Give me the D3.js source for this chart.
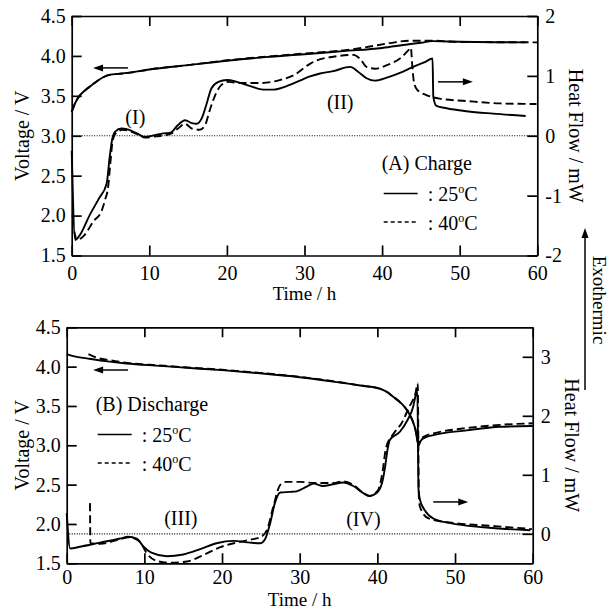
<!DOCTYPE html>
<html>
<head>
<meta charset="utf-8">
<script src="https://cdn.jsdelivr.net/npm/d3@7"></script>
<style>
body { margin: 0; background: #fff; }
text { font-family: "Liberation Serif", "Times New Roman", serif; fill: #000; }
</style>
</head>
<body>
<div id="graph"></div>
<script>
// Tick values
const timeTicks = [0, 10, 20, 30, 40, 50, 60];
const voltTicks = [1.5, 2.0, 2.5, 3.0, 3.5, 4.0, 4.5];
const heatTicksA = [-2, -1, 0, 1, 2];
const heatTicksB = [0, 1, 2, 3];
const temps = ["25", "40"];

// (A) Charge : [time h, voltage V]
const chgV25 = [[0,3.30],[0.5,3.42],[1,3.50],[1.5,3.55],[2.8,3.65],[4,3.73],[5,3.765],[6,3.775],[7.5,3.79],
  [10,3.83],[15,3.885],[20,3.94],[25,3.985],[30,4.02],[35,4.06],[40,4.10],[43,4.14],[45,4.165],[46.5,4.185],
  [48.5,4.18],[58.5,4.17]];
const chgV40 = [[0,3.30],[0.5,3.42],[1,3.50],[1.5,3.55],[2.8,3.65],[4,3.73],[5,3.765],[6,3.775],[7.5,3.79],
  [10,3.83],[15,3.885],[20,3.945],[25,3.99],[30,4.03],[35,4.07],[38,4.11],[41,4.16],[43.5,4.19],[46.5,4.19],
  [50,4.175],[60,4.17]];
// (A) Charge : [time h, heat flow mW]
const chgH25 = [[0,-0.25],[0.45,-1.74],[1.1,-1.65],[2.3,-1.33],[3.5,-1.05],[4.5,-0.8],[4.9,-0.35],[5.2,-0.07],
  [5.6,0.07],[6.4,0.12],[7.1,0.11],[8.4,0.04],[9.4,-0.02],[10.7,0.01],[11.8,0.04],[12.7,0.05],[13.7,0.18],
  [14.6,0.26],[15.5,0.21],[16.1,0.2],[16.75,0.29],[17.4,0.54],[18,0.79],[18.9,0.9],[20,0.93],[21.3,0.9],
  [23,0.83],[24.7,0.77],[26,0.77],[27.7,0.83],[29.4,0.92],[30.7,0.99],[32,1.04],[33.7,1.08],[35.9,1.15],
  [36.9,1.07],[38,0.96],[39.1,0.92],[40.6,0.97],[42.3,1.05],[44,1.15],[45.5,1.23],[46.5,1.29],[46.6,0.65],
  [47,0.5],[48.3,0.46],[50.9,0.41],[54.3,0.37],[58.5,0.33]];
const chgH40 = [[0.35,-1.6],[0.65,-1.74],[1.5,-1.68],[2.8,-1.43],[3.9,-1.24],[4.3,-1.07],[4.7,-0.85],
  [4.95,-0.5],[5.3,-0.07],[5.8,0.06],[6.6,0.1],[8.4,0.03],[9.45,-0.03],[10.9,-0.01],[12.7,0.03],[13.7,0.12],
  [14.6,0.2],[15.5,0.12],[16.5,0.1],[17.2,0.18],[17.8,0.43],[18.5,0.68],[19.3,0.85],[20.2,0.9],[21.7,0.88],
  [24.3,0.88],[26.8,0.93],[28.6,1.01],[30.7,1.2],[31.6,1.26],[33.7,1.32],[36.3,1.35],[37.2,1.28],[38,1.15],
  [39.1,1.12],[40.6,1.18],[42.3,1.29],[43.4,1.43],[43.7,1.47],[43.9,1.15],[44.1,0.9],[44.5,0.77],[45.7,0.68],
  [47.4,0.62],[50.9,0.58],[55.2,0.54],[59.9,0.53]];

// (B) Discharge : [time h, voltage V]
const disV25 = [[0,4.16],[1,4.13],[2.6,4.105],[5,4.07],[7.7,4.04],[12,4.01],[16.3,3.98],[20,3.955],[24.9,3.915],
  [30,3.865],[34.3,3.81],[37.8,3.76],[40.3,3.72],[41.2,3.68],[42,3.62],[43,3.54],[43.8,3.45],[44.5,3.32],
  [44.9,3.2],[45.3,3.0],[45.6,3.06],[46.2,3.1],[47.2,3.13],[51.5,3.19],[55.8,3.235],[60,3.245]];
const disV40 = [[2.8,4.16],[4,4.11],[5.6,4.08],[8,4.045],[12,4.015],[16.3,3.985],[20,3.96],[24.9,3.92],
  [30,3.87],[34.3,3.815],[37.8,3.76],[40.3,3.72],[41.2,3.68],[42,3.62],[43,3.54],[43.8,3.45],[44.5,3.32],
  [44.9,3.2],[45.3,3.02],[45.6,3.08],[46.2,3.12],[47.2,3.15],[51.5,3.22],[55.8,3.26],[60,3.28]];
// (B) Discharge : [time h, heat flow mW]
const disH25 = [[0,0.35],[0.45,-0.25],[1.7,-0.22],[4.3,-0.15],[6.9,-0.08],[7.9,-0.05],[9,-0.08],[9.9,-0.22],
  [10.9,-0.32],[12.9,-0.38],[15,-0.35],[17.2,-0.26],[19.3,-0.16],[21.5,-0.12],[23.6,-0.15],[24.9,-0.16],
  [25.5,-0.1],[26.2,0.18],[26.8,0.52],[27.5,0.7],[28.8,0.71],[29.6,0.72],[30.9,0.8],[31.8,0.85],[33,0.81],
  [34.3,0.84],[35.6,0.87],[36.9,0.81],[38.2,0.69],[39,0.64],[39.9,0.69],[40.6,0.86],[41,1.14],[41.3,1.42],
  [41.6,1.59],[42.9,1.73],[43.85,1.92],[44.6,2.15],[45,2.38],[45.15,2.42],[45.3,0.75],[45.5,0.57],[46.1,0.4],
  [47.2,0.26],[49.4,0.18],[53.7,0.11],[59.7,0.06]];
const disH40 = [[3.0,0.52],[3.05,-0.16],[4.3,-0.17],[6.9,-0.09],[8,-0.06],[9.4,-0.13],[10.3,-0.33],[11.6,-0.46],
  [13.3,-0.49],[15.5,-0.47],[17.6,-0.36],[19.7,-0.23],[21.5,-0.16],[23.6,-0.1],[24.9,-0.06],[25.8,0.07],
  [26.6,0.46],[27.5,0.83],[28.3,0.88],[30,0.88],[32,0.86],[34.3,0.86],[35.6,0.89],[36.9,0.83],[38.2,0.69],
  [39,0.64],[40.1,0.74],[40.7,1.08],[41.1,1.45],[42.1,1.7],[43.1,1.87],[44.1,2.15],[44.9,2.38],[45.2,2.55],
  [45.35,0.6],[45.5,0.45],[46.6,0.26],[50.1,0.18],[55.1,0.13],[59.9,0.08]];

////////////////////////////////////////////////////////////////////////////////
const FONT = 20;
const SERIF = "Liberation Serif, Times New Roman, serif";

var svg = d3.select("#graph")
  .append("svg")
  .attr("width", 611)
  .attr("height", 610);

function arrow(g, x1, y1, x2, y2) {
  var ang = Math.atan2(y2 - y1, x2 - x1), L = 10, w = 3.5;
  g.append("line")
    .attr("x1", x1).attr("y1", y1)
    .attr("x2", x2 - Math.cos(ang) * 6).attr("y2", y2 - Math.sin(ang) * 6)
    .attr("stroke", "#000").attr("stroke-width", 1.5);
  var bx = x2 - Math.cos(ang) * L, by = y2 - Math.sin(ang) * L;
  g.append("path")
    .attr("d", "M" + x2 + "," + y2 +
      "L" + (bx - Math.sin(ang) * w) + "," + (by + Math.cos(ang) * w) +
      "L" + (bx + Math.sin(ang) * w) + "," + (by - Math.cos(ang) * w) + "Z")
    .attr("fill", "#000");
}

function tempLabel(g, x, y, t) {
  var txt = g.append("text").attr("x", x).attr("y", y)
    .attr("font-size", FONT).attr("font-family", SERIF);
  txt.append("tspan").text(": " + t);
  txt.append("tspan").attr("dy", -8).attr("font-size", 12).text("o");
  txt.append("tspan").attr("dy", 8).text("C");
}

function drawPanel(p) {
  var x = d3.scaleLinear().domain([0, 60]).range([p.left, p.right]);
  var yV = d3.scaleLinear().domain([1.5, 4.5]).range([p.bottom, p.top]);
  var yH = d3.scaleLinear().domain(p.heatDomain).range([p.bottom, p.top]);
  var g = svg.append("g");

  // zero heat-flow line
  g.append("line")
    .attr("x1", x(0)).attr("x2", x(60))
    .attr("y1", yH(0)).attr("y2", yH(0))
    .attr("stroke", "#000").attr("stroke-width", 1.2)
    .attr("stroke-dasharray", "1,1.5");

  var lineV = d3.line().x(d => x(d[0])).y(d => yV(d[1])).curve(d3.curveMonotoneX);
  var lineH = d3.line().x(d => x(d[0])).y(d => yH(d[1])).curve(d3.curveMonotoneX);

  [[p.v25, lineV, null], [p.v40, lineV, "8,4"], [p.h25, lineH, null], [p.h40, lineH, "8,4"]]
    .forEach(function (s) {
      g.append("path")
        .attr("d", s[1](s[0]))
        .attr("fill", "none")
        .attr("stroke", "#000")
        .attr("stroke-width", 1.9)
        .attr("stroke-dasharray", s[2]);
    });

  // Axes (ticks inward)
  var axes = [
    [d3.axisBottom(x).tickValues(timeTicks).tickPadding(p.xPad), "translate(0," + p.bottom + ")"],
    [d3.axisTop(x).tickValues(timeTicks).tickFormat(""), "translate(0," + p.top + ")"],
    [d3.axisLeft(yV).tickValues(voltTicks).tickFormat(d3.format(".1f")).tickPadding(6), "translate(" + p.left + ",0)"],
    [d3.axisRight(yH).tickValues(p.heatTicks).tickFormat(d => String(d)).tickPadding(8), "translate(" + p.right + ",0)"]
  ];
  axes.forEach(function (a) {
    var ax = g.append("g")
      .attr("transform", a[1])
      .call(a[0].tickSizeInner(-10).tickSizeOuter(0));
    ax.attr("font-size", FONT).attr("font-family", SERIF);
    ax.selectAll("path, line").attr("stroke-width", 1.7);
  });

  // Axis titles
  g.append("text")
    .attr("text-anchor", "middle")
    .attr("x", (p.left + p.right) / 2).attr("y", p.bottom + p.titleDy)
    .attr("font-size", 19).attr("font-family", SERIF)
    .text("Time / h");
  g.append("text")
    .attr("text-anchor", "middle")
    .attr("transform", "translate(21.5," + (p.top + p.bottom) / 2 + ") rotate(-90)")
    .attr("dy", "0.35em")
    .attr("font-size", FONT).attr("font-family", SERIF)
    .text("Voltage / V");
  g.append("text")
    .attr("text-anchor", "middle")
    .attr("transform", "translate(" + (p.right + 39) + "," + (p.top + p.bottom) / 2 + ") rotate(90)")
    .attr("dy", "0.35em")
    .attr("font-size", FONT).attr("font-family", SERIF)
    .text("Heat Flow / mW");

  // Region labels
  p.marks.forEach(function (m) {
    g.append("text")
      .attr("text-anchor", "middle")
      .attr("x", x(m[1])).attr("y", yH(m[2]))
      .attr("font-size", FONT).attr("font-family", SERIF)
      .text(m[0]);
  });

  // arrows: voltage -> left axis, heat flow -> right axis
  arrow(g, x(p.arrV[1]), yV(p.arrV[2]), x(p.arrV[0]), yV(p.arrV[2]));
  arrow(g, x(p.arrH[0]), yH(p.arrH[2]), x(p.arrH[1]), yH(p.arrH[2]));

  // Legend
  var lx = p.legend[0], ly = p.legend[1];
  g.append("text").attr("x", lx).attr("y", ly)
    .attr("font-size", FONT).attr("font-family", SERIF).text(p.title);
  g.append("line").attr("x1", lx + 2).attr("x2", lx + 36).attr("y1", ly + 23.5).attr("y2", ly + 23.5)
    .attr("stroke", "#000").attr("stroke-width", 1.3);
  tempLabel(g, lx + 46, ly + 30.5, temps[0]);
  g.append("line").attr("x1", lx + 2).attr("x2", lx + 36).attr("y1", ly + 52).attr("y2", ly + 52)
    .attr("stroke", "#000").attr("stroke-width", 1.3).attr("stroke-dasharray", "4,3");
  tempLabel(g, lx + 46, ly + 59.5, temps[1]);
}

drawPanel({
  left: 71.7, right: 537.3, top: 16, bottom: 255.5,
  heatDomain: [-2, 2], heatTicks: heatTicksA,
  v25: chgV25, v40: chgV40, h25: chgH25, h40: chgH40,
  xPad: 10, titleDy: 44,
  marks: [["(I)", 8.2, 0.2], ["(II)", 34.6, 0.455]],
  arrV: [2.75, 7.25, 3.85], arrH: [47.2, 51.7, 0.9],
  title: "(A) Charge", legend: [381.7, 170]
});

drawPanel({
  left: 66.7, right: 532.7, top: 327.3, bottom: 563.3,
  heatDomain: [-0.5, 3.5], heatTicks: heatTicksB,
  v25: disV25, v40: disV40, h25: disH25, h40: disH40,
  xPad: 7, titleDy: 42.3,
  marks: [["(III)", 14.7, 0.15], ["(IV)", 38.2, 0.13]],
  arrV: [3.4, 7.9, 3.957], arrH: [47.2, 51.7, 0.54],
  title: "(B) Discharge", legend: [95.7, 411]
});

// Exothermic arrow on the right edge
var ex = svg.append("g");
arrow(ex, 585, 390, 585, 228);
ex.append("text")
  .attr("text-anchor", "middle")
  .attr("transform", "translate(600,300) rotate(90)")
  .attr("dy", "0.35em")
  .attr("font-size", 19).attr("font-family", SERIF)
  .text("Exothermic");
</script>
</body>
</html>
